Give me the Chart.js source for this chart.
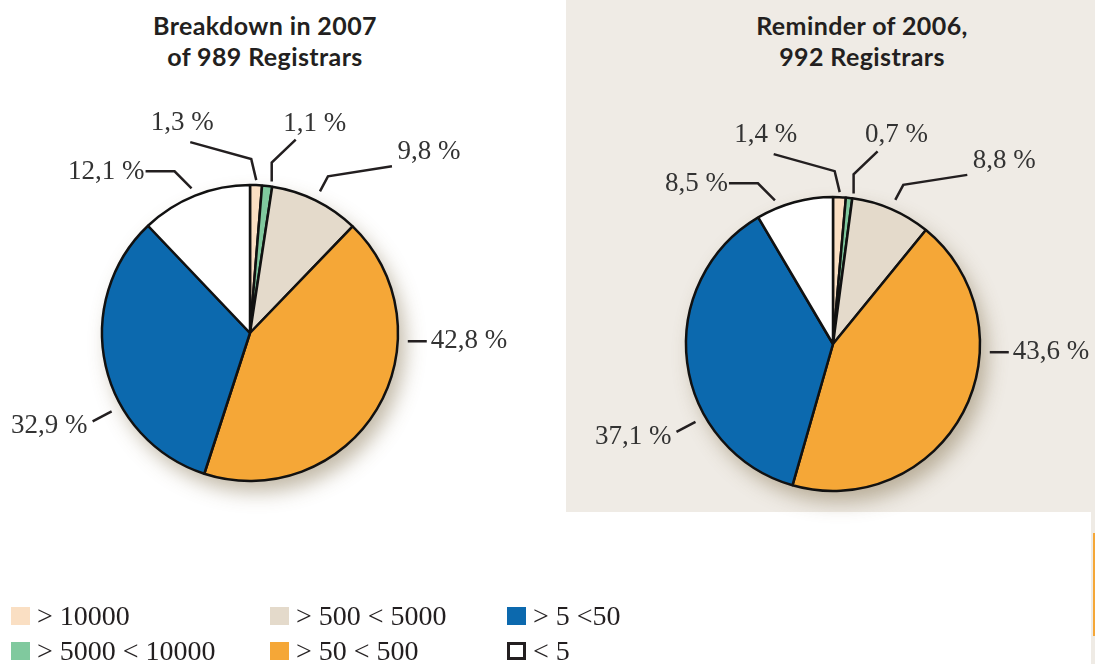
<!DOCTYPE html>
<html>
<head>
<meta charset="utf-8">
<script src="https://cdn.jsdelivr.net/npm/chart.js@4/dist/chart.umd.min.js"></script>
<style>
    html, body { margin: 0; padding: 0; background: #ffffff; }
    #page { position: relative; width: 1095px; height: 664px; overflow: hidden; }
    .panel { position: absolute; left: 566px; top: 0; width: 529px; height: 512px; background: #efebe5; }
    .strip { position: absolute; left: 1091px; top: 512px; width: 4px; height: 152px; background: #efebe5; }
    .strip-line { position: absolute; left: 1093px; top: 533px; width: 2px; height: 103px; background: #f5a737; }
    .title { position: absolute; width: 380px; text-align: center; font-family: Lato, "Open Sans", sans-serif; font-weight: 700; font-size: 25px; letter-spacing: 0.4px; line-height: 31px; color: #231f20; }
    canvas { position: absolute; }
    .legend-item { position: absolute; height: 18px; font-family: "Liberation Serif", "DejaVu Serif", serif; font-size: 28px; color: #231f20; white-space: nowrap; }
    .legend-item .sw { position: absolute; left: 0; top: 0; width: 19px; height: 18px; box-sizing: border-box; }
    .legend-item span.txt { position: absolute; top: -7px; line-height: 32px; }
</style>
</head>
<body>
<div id="page">
    <div class="panel"></div>
    <div class="strip"></div>
    <div class="strip-line"></div>
    <div class="title" style="left:75px; top:10px;">Breakdown in 2007<br>of 989 Registrars</div>
    <div class="title" style="left:672px; top:10px;">Reminder of 2006,<br>992 Registrars</div>
    <canvas id="pie2007" width="620" height="560" style="left:-60px; top:53px;"></canvas>
    <canvas id="pie2006" width="524" height="560" style="left:571px; top:64px;"></canvas>
    <div id="legend"></div>
</div>
<script>
// ==========================================
// DATA
// ==========================================

const categories = ['> 10000', '> 5000 < 10000', '> 500 < 5000', '> 50 < 500', '> 5 <50', '< 5'];
const share2007 = [1.3, 1.1, 9.8, 42.8, 32.9, 12.1];
const share2006 = [1.4, 0.7, 8.8, 43.6, 37.1, 8.5];
const sliceColors = ['#fadfc3', '#80c99e', '#e4dacb', '#f5a737', '#0c69ae', '#ffffff'];

// ==========================================
// LABEL LAYOUT (leader lines, per category)
// ==========================================

// angle: degrees clockwise from top (null = slice middle), gap: px beyond the rim
const labelLayout = [
    { angle: null, shift: 0, gap: 5, elbow: [-5, -21], end: [-66, -38], text: [-8, -19], align: 'center' },
    { angle: null, shift: 1.5, gap: 5, elbow: [0, -19], end: [24, -42], text: [19, -16], align: 'center' },
    { angle: null, shift: 0, gap: 10, elbow: [8, -15], end: [72, -25], text: [37, -14], align: 'center' },
    { angle: 93, shift: 0, gap: 10, elbow: null, end: [19, 0], text: [4, 0], align: 'left' },
    { angle: 240.5, shift: 0, gap: 11, elbow: null, end: [-19, 10], text: [-5, 5], align: 'right' },
    { angle: 338, shift: 0, gap: 8, elbow: [-17, -17], end: [-46, -17], text: [-1, 1], align: 'right' }
];

const formatShare = v => v.toFixed(1).replace('.', ',') + ' %';

// soft drop shadow under the pie
const pieShadow = {
    id: 'pieShadow',
    beforeDatasetsDraw(chart) {
        const arc = chart.getDatasetMeta(0).data[0];
        if (!arc) return;
        const { x, y, outerRadius } = arc.getProps(['x', 'y', 'outerRadius'], true);
        const ctx = chart.ctx;
        ctx.save();
        ctx.shadowColor = 'rgba(120, 100, 60, 0.45)';
        ctx.shadowBlur = 20;
        ctx.shadowOffsetX = 7;
        ctx.shadowOffsetY = 11;
        ctx.fillStyle = '#ffffff';
        ctx.beginPath();
        ctx.arc(x, y, outerRadius, 0, Math.PI * 2);
        ctx.fill();
        ctx.restore();
    }
};

// percentage labels with leader lines
const leaderLabels = {
    id: 'leaderLabels',
    afterDatasetsDraw(chart) {
        const ctx = chart.ctx;
        const values = chart.data.datasets[0].data;
        chart.getDatasetMeta(0).data.forEach((arc, i) => {
            const p = arc.getProps(['x', 'y', 'startAngle', 'endAngle', 'outerRadius'], true);
            const lay = labelLayout[i];
            let a;
            if (lay.angle === null) {
                a = (p.startAngle + p.endAngle) / 2 + lay.shift * Math.PI / 180;
            } else {
                a = lay.angle * Math.PI / 180 - Math.PI / 2;
            }
            const r = p.outerRadius + lay.gap;
            const ax = p.x + r * Math.cos(a);
            const ay = p.y + r * Math.sin(a);
            const ex = ax + lay.end[0];
            const ey = ay + lay.end[1];

            ctx.save();
            ctx.strokeStyle = '#231f20';
            ctx.lineWidth = 2.5;
            ctx.beginPath();
            ctx.moveTo(ax, ay);
            if (lay.elbow) ctx.lineTo(ax + lay.elbow[0], ay + lay.elbow[1]);
            ctx.lineTo(ex, ey);
            ctx.stroke();

            ctx.fillStyle = '#333333';
            ctx.font = '27px "Liberation Serif", "DejaVu Serif", serif';
            ctx.textAlign = lay.align;
            ctx.textBaseline = 'middle';
            ctx.fillText(formatShare(values[i]), ex + lay.text[0], ey + lay.text[1]);
            ctx.restore();
        });
    }
};

const makePie = (id, values, radius) => {
    const ctx = document.getElementById(id).getContext('2d');
    return new Chart(ctx, {
        type: 'pie',
        data: {
            labels: categories,
            datasets: [{
                data: values,
                backgroundColor: sliceColors,
                borderColor: '#111111',
                borderWidth: 2.5
            }]
        },
        options: {
            responsive: false,
            animation: false,
            radius: radius,
            layout: { padding: 0 },
            plugins: {
                legend: { display: false },
                tooltip: { enabled: false },
                title: { display: false }
            }
        },
        plugins: [pieShadow, leaderLabels]
    });
};

makePie('pie2007', share2007, 148);
makePie('pie2006', share2006, 147);

// ==========================================
// LEGEND
// ==========================================

const legendCols = [11, 270, 507];
const legendRows = [607, 642];
const legendEl = document.getElementById('legend');
categories.forEach((name, i) => {
    const col = Math.floor(i / 2);
    const row = i % 2;
    const item = document.createElement('div');
    item.className = 'legend-item';
    item.style.left = legendCols[col] + 'px';
    item.style.top = legendRows[row] + 'px';
    const sw = document.createElement('div');
    sw.className = 'sw';
    sw.style.background = sliceColors[i];
    if (sliceColors[i] === '#ffffff') sw.style.border = '3.5px solid #231f20';
    const txt = document.createElement('span');
    txt.className = 'txt';
    txt.style.left = '26px';
    txt.textContent = name;
    item.appendChild(sw);
    item.appendChild(txt);
    legendEl.appendChild(item);
});
</script>
</body>
</html>
